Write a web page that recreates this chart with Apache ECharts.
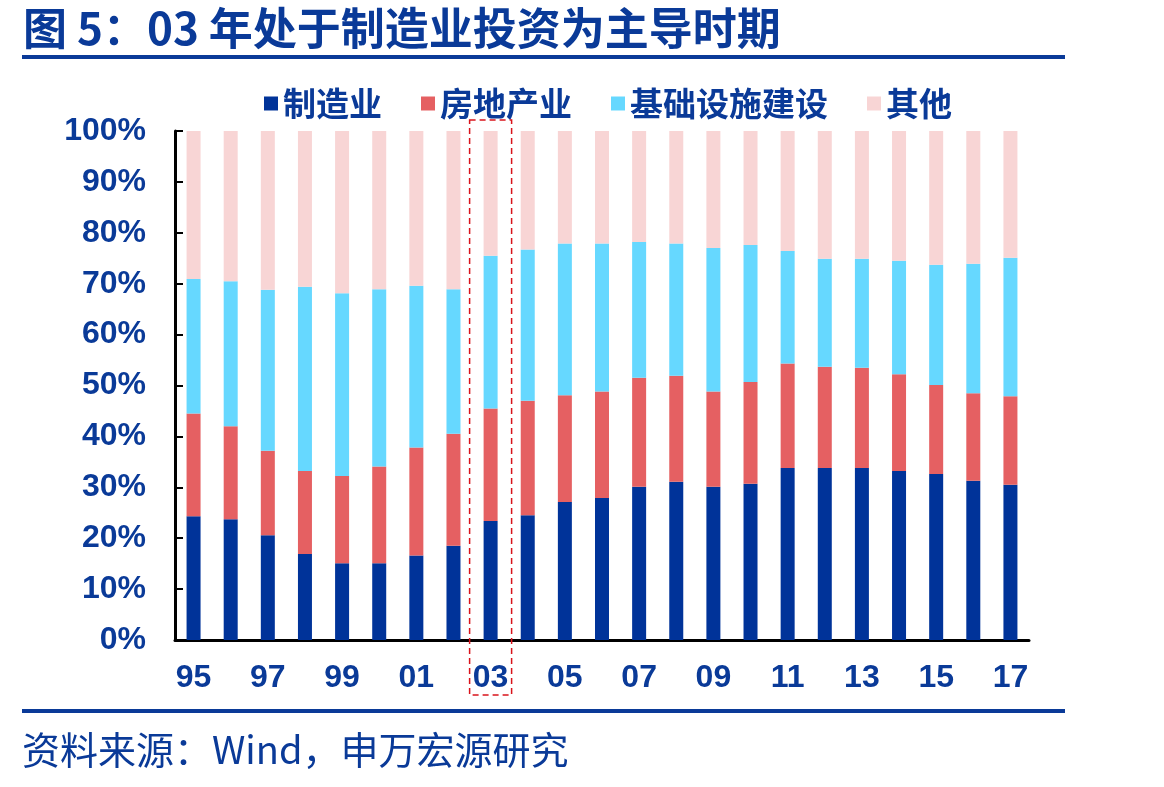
<!DOCTYPE html>
<html>
<head>
<meta charset="utf-8">
<script src="https://cdn.jsdelivr.net/npm/echarts@6/dist/echarts.min.js"></script>
<style>
  html, body { margin: 0; padding: 0; background: #fff; }
  #chart { width: 1164px; height: 787px; }
</style>
</head>
<body>
<div id="chart"></div>
<script>
// shares of fixed-asset investment, %
const years = ['95', '96', '97', '98', '99', '00', '01', '02', '03', '04', '05', '06',
	'07', '08', '09', '10', '11', '12', '13', '14', '15', '16', '17'];
const manufacturing = [24.3, 23.7, 20.6, 16.9, 15.1, 15.1, 16.6, 18.5, 23.4, 24.5, 27.1, 27.9,
	30.1, 31.1, 30.1, 30.7, 33.8, 33.8, 33.8, 33.2, 32.6, 31.3, 30.5];
const realEstate = [20.2, 18.3, 16.6, 16.3, 17.1, 19.0, 21.2, 22.0, 22.1, 22.5, 21.0, 20.9,
	21.4, 20.8, 18.7, 20.0, 20.5, 19.9, 19.7, 19.0, 17.5, 17.2, 17.4];
const infrastructure = [26.4, 28.5, 31.6, 36.2, 35.9, 34.8, 31.8, 28.4, 30.0, 29.7, 29.8, 29.1,
	26.7, 26.0, 28.2, 26.9, 22.1, 21.2, 21.4, 22.3, 23.6, 25.4, 27.2];
const other = [29.1, 29.5, 31.2, 30.6, 31.9, 31.1, 30.4, 31.1, 24.5, 23.3, 22.1, 22.1,
	21.8, 22.1, 23.0, 22.4, 23.6, 25.1, 25.1, 25.5, 26.3, 26.1, 24.9];
const yTicks = [0, 10, 20, 30, 40, 50, 60, 70, 80, 90, 100];
const highlightYear = '03';

const NAVY = '#0A3A98',
	BAR_COLORS = ['#003399', '#E56062', '#66D8FF', '#F8D5D5'],
	FONT = '"Liberation Sans", Arial, "Noto Sans CJK SC", sans-serif',
	CJK = '"Noto Sans CJK SC", sans-serif';

const chart = echarts.init(document.getElementById('chart'));

function barSeries(name, data, color) {
	return {
		name, type: 'bar', stack: 'total', data,
		barWidth: 14,
		itemStyle: { color },
		emphasis: { disabled: true }
	};
}

chart.setOption({
	animation: false,
	title: {
		text: '图 5：03 年处于制造业投资为主导时期',
		left: 18, top: 1,
		textStyle: { color: NAVY, fontSize: 44, fontWeight: 'bold', fontFamily: CJK }
	},
	legend: {
		left: 259, top: 82,
		itemWidth: 14, itemHeight: 14, itemGap: 39,
		icon: 'rect',
		textStyle: { color: NAVY, fontSize: 33, fontWeight: 'bold', fontFamily: CJK }
	},
	grid: { left: 175, right: 135, top: 131, bottom: 147, containLabel: false },
	xAxis: {
		type: 'category', data: years,
		axisLine: { lineStyle: { color: '#000', width: 3 } },
		axisTick: { inside: true, length: 8, interval: 1, lineStyle: { color: '#000', width: 2 } },
		axisLabel: { interval: 1, margin: 22, color: NAVY, fontSize: 32, fontWeight: 'bold', fontFamily: FONT }
	},
	yAxis: {
		type: 'value', min: yTicks[0], max: yTicks[yTicks.length - 1], interval: 10,
		axisLine: { show: true, lineStyle: { color: '#000', width: 3 } },
		axisTick: { show: true, inside: true, length: 8, lineStyle: { color: '#000', width: 2 } },
		splitLine: { show: false },
		axisLabel: { formatter: '{value}%', margin: 29, color: NAVY, fontSize: 32, fontWeight: 'bold', fontFamily: FONT }
	},
	series: [
		barSeries('制造业', manufacturing, BAR_COLORS[0]),
		barSeries('房地产业', realEstate, BAR_COLORS[1]),
		barSeries('基础设施建设', infrastructure, BAR_COLORS[2]),
		barSeries('其他', other, BAR_COLORS[3])
	]
});

// decorations: rules under title / above source, dashed box round the highlighted year
const cx = chart.convertToPixel({ xAxisIndex: 0 }, highlightYear),
	yTop = chart.convertToPixel({ yAxisIndex: 0 }, 100),
	yBottom = chart.convertToPixel({ yAxisIndex: 0 }, 0);

chart.setOption({
	graphic: [
		{ type: 'rect', shape: { x: 22, y: 55, width: 1043, height: 4 }, style: { fill: NAVY } },
		{ type: 'rect', shape: { x: 22, y: 709, width: 1043, height: 4 }, style: { fill: NAVY } },
		{
			type: 'rect', z: 100,
			shape: { x: cx - 21, y: yTop - 11, width: 42, height: yBottom - yTop + 66 },
			style: { fill: 'none', stroke: '#D9141B', lineWidth: 1.5, lineDash: [6, 4] }
		},
		{
			type: 'text', left: 22, top: 731,
			style: { text: '资料来源：Wind，申万宏源研究', fill: NAVY, fontSize: 38, fontFamily: CJK }
		}
	]
});
</script>
</body>
</html>
